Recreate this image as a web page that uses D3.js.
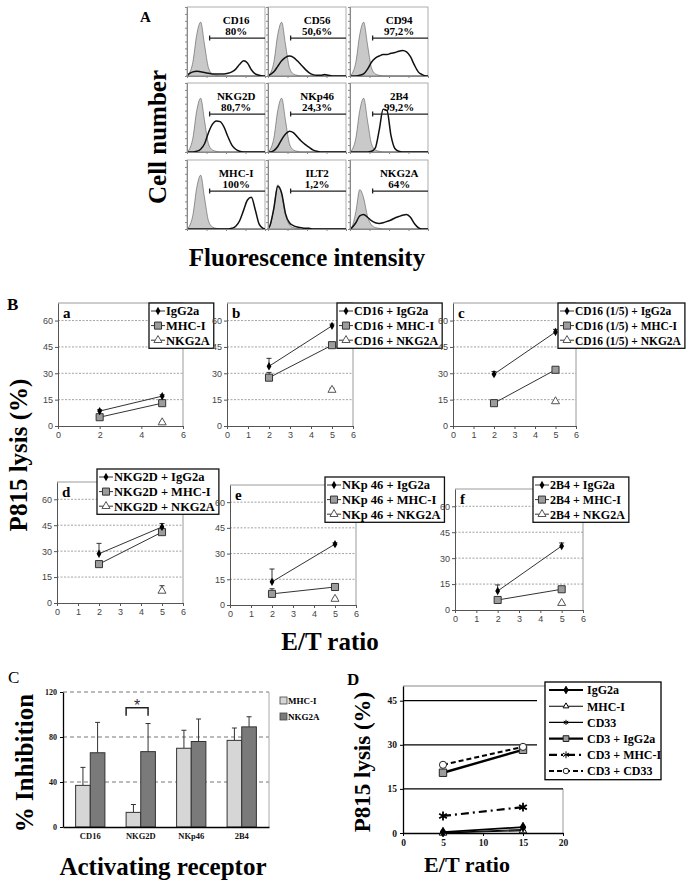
<!DOCTYPE html>
<html><head><meta charset="utf-8">
<script src="https://cdn.jsdelivr.net/npm/d3@7"></script>
<style>body{margin:0;background:#fff}svg{display:block}</style>
</head><body>
<svg id="fig" width="689" height="887"></svg>
<script>
// ================= DATA =================
// Panel A: flow cytometry histograms (20 log-spaced bins, % of cell height)
const histMarkers = ["CD16","CD56","CD94","NKG2D","NKp46","2B4","MHC-I","ILT2","NKG2A"];
const histPercents = ["80%","50,6%","97,2%","80,7%","24,3%","99,2%","100%","1,2%","64%"];
const isotypeTall  = [3,20,60,78,45,12,3,1,0,0,0,0,0,0,0,0,0,0,0,0];
const isotypeMid   = [4,30,64,50,20,6,2,1,0,0,0,0,0,0,0,0,0,0,0,0];
const isotypeLow   = [3,25,57,45,18,6,2,1,0,0,0,0,0,0,0,0,0,0,0,0];
const cd16Counts  = [3,6,7,6,5,4,3,3,3,3,4,6,10,17,22,19,9,3,1,0];
const cd56Counts  = [2,6,14,22,27,29,27,22,16,10,5,2,1,1,2,1,0,0,0,0];
const cd94Counts  = [0,0,1,3,10,20,26,29,31,31,33,34,36,37,35,28,16,6,2,0];
const nkg2dCounts = [0,0,1,4,12,28,40,45,44,36,22,10,4,1,0,0,0,0,0,0];
const nkp46Counts = [0,2,8,18,26,30,28,22,16,11,7,3,1,0,0,0,0,0,0,0];
const b2b4Counts  = [0,0,0,0,0,1,6,32,62,60,24,5,1,0,0,0,0,0,0,0];
const mhcCounts   = [0,0,0,0,0,0,0,0,0,0,0,1,4,12,27,42,46,28,7,1];
const ilt2Counts  = [5,30,62,52,22,9,5,3,2,1,1,0,0,0,0,0,0,0,0,0];
const nkg2aCounts = [2,9,19,21,17,12,9,8,9,11,13,16,18,20,21,17,8,2,0,0];
const histOutlines = [cd16Counts,cd56Counts,cd94Counts,nkg2dCounts,nkp46Counts,b2b4Counts,mhcCounts,ilt2Counts,nkg2aCounts];
const histIsotypes = [isotypeTall,isotypeTall,isotypeTall,isotypeTall,isotypeTall,isotypeTall,isotypeTall,isotypeMid,isotypeLow];

// Panel B: P815 lysis (%) at E/T 2 and 5
const etRatios = [2, 5];
const etTicks = [0,1,2,3,4,5,6];
const etTicksA = [0,2,4,6];
const lysisTicks = [0,15,30,45,60];
const subplotLetters = ["a","b","c","d","e","f"];
const subplotPrefixes = ["", "CD16 + ", "CD16 (1/5) + ", "NKG2D + ", "NKp 46 + ", "2B4 + "];
const antibodyNames = ["IgG2a","MHC-I","NKG2A"];
const igg2aLysis = [[8.5,17],[34,57],[29.5,53.5],[28.5,44],[13.5,35.5],[11,37]];
const igg2aErr   = [[0.8,0.8],[4.5,1],[1.5,1.5],[6,2],[7.5,0.8],[3.5,1.8]];
const mhcLysis   = [[5,13],[27.5,46],[13,32],[22.5,41],[6.5,10.5],[5.8,12]];
const mhcErr     = [[0.5,1],[3,0.5],[0.5,1],[1,1],[3,0.5],[0.5,0.5]];
const nkg2aLysis = [2, 20.5, 14, 7, 3.5, 4];   // at E/T 5 only
const nkg2aErr   = [0.5, 1, 0.5, 3, 0.5, 0.5];

// Panel C: % inhibition
const cCats = ["CD16","NKG2D","NKp46","2B4"];
const cMhcInhib = [37, 13, 70, 77];
const cMhcErr = [16, 7, 16, 11];
const cNkg2aInhib = [66, 67, 76, 89];
const cNkg2aErr = [27, 25, 20, 9];
const cTicks = [0, 40, 80, 120];
const cLegend = ["MHC-I","NKG2A"];

// Panel D: CD3 redirected lysis
const dEt = [5, 15];
const dTicksX = [0,5,10,15,20];
const dTicksY = [0,15,30,45];
const dSeries = ["IgG2a","MHC-I","CD33","CD3 + IgG2a","CD3 + MHC-I","CD3 + CD33"];
const dIgG2a = [0.3, 2];
const dMhcI = [0, 0.8];
const dCd33 = [0.1, 1.2];
const dCd3IgG2a = [20.5, 28.3];
const dCd3MhcI = [5.8, 8.8];
const dCd3Cd33 = [23.2, 29.3];
const dValues = [dIgG2a, dMhcI, dCd33, dCd3IgG2a, dCd3MhcI, dCd3Cd33];

// ================= DRAW =================
const svg = d3.select("#fig");
const SERIF = "'Liberation Serif','Times New Roman',serif";
const SANS = "'Liberation Sans',Arial,sans-serif";

function label(x, y, s, size, opt = {}) {
  const t = svg.append("text").attr("x", x).attr("y", y).text(s)
    .attr("font-family", opt.family || SERIF).attr("font-size", size)
    .attr("font-weight", opt.weight || "bold").attr("fill", opt.fill || "#000")
    .attr("text-anchor", opt.anchor || "start");
  if (opt.rotate) t.attr("x", 0).attr("y", 0).attr("transform", `translate(${x},${y}) rotate(-90)`);
  return t;
}

// ---------- Panel A ----------
label(140, 22, "A", 15);
label(166, 137, "Cell number", 25, {anchor: "middle", rotate: true});
label(307, 266, "Fluorescence intensity", 25, {anchor: "middle"});

const cellCols = [187, 268, 350], cellRows = [7, 83, 160], cellW = 78, cellH = 69;
histMarkers.forEach((name, i) => {
  const cx = cellCols[i % 3], cy = cellRows[Math.floor(i / 3)];
  const g = svg.append("g").attr("transform", `translate(${cx},${cy})`);
  const hx = d3.scaleLinear().domain([0, 20]).range([0, cellW]);
  const hy = d3.scaleLinear().domain([0, 100]).range([cellH, 0]);
  const toPts = arr => [[0, 0], ...arr.map((v, k) => [k + 0.5, v]), [20, 0]];
  const area = d3.area().x(d => hx(d[0])).y0(hy(0)).y1(d => hy(d[1])).curve(d3.curveMonotoneX);
  const line = d3.line().x(d => hx(d[0])).y(d => hy(d[1])).curve(d3.curveMonotoneX);
  g.append("rect").attr("width", cellW).attr("height", cellH).attr("fill", "#fff").attr("stroke", "#9a9a9a").attr("stroke-width", 0.8);
  g.append("path").attr("d", area(toPts(histIsotypes[i]))).attr("fill", "#c9c9c9").attr("stroke", "#555").attr("stroke-width", 0.6);
  g.append("path").attr("d", line(toPts(histOutlines[i]))).attr("fill", "none").attr("stroke", "#111").attr("stroke-width", 1.5);
  // tiny axes (tick marks only)
  g.append("g").call(d3.axisLeft(hy).ticks(8).tickSize(2).tickFormat(""))
    .call(s => { s.select(".domain").attr("stroke", "#888"); s.selectAll("line").attr("stroke", "#888"); });
  const lx = d3.scaleLog().domain([1, 10000]).range([0, cellW]);
  g.append("g").attr("transform", `translate(0,${cellH})`)
    .call(d3.axisBottom(lx).tickValues([1, 10, 100, 1000, 10000]).tickSize(2).tickFormat(""))
    .call(s => { s.select(".domain").attr("stroke", "#888"); s.selectAll("line").attr("stroke", "#888"); });
  // labels + marker
  const tx = cellW * 0.63;
  g.append("text").attr("x", tx).attr("y", cellH * 0.24).attr("text-anchor", "middle").text(name)
    .attr("font-family", SERIF).attr("font-weight", "bold").attr("font-size", 11);
  g.append("text").attr("x", tx).attr("y", cellH * 0.40).attr("text-anchor", "middle").text(histPercents[i])
    .attr("font-family", SERIF).attr("font-weight", "bold").attr("font-size", 11);
  const my = cellH * 0.45, mx = cellW * 0.29;
  g.append("path").attr("d", `M${mx},${my - 2.5}V${my + 2.5}M${mx},${my}H${cellW}`).attr("stroke", "#222").attr("stroke-width", 1.3).attr("fill", "none");
});

// ---------- Panel B ----------
label(7, 310, "B", 17);
label(27, 455, "P815 lysis (%)", 25, {anchor: "middle", rotate: true});
label(330, 650, "E/T ratio", 25, {anchor: "middle"});

const bLayout = [
  {x0: 58,  x1: 183, y0: 426, yT: 303, lx: 149, ly: 303, fs: 12.5, xt: etTicksA},
  {x0: 227, x1: 353, y0: 426, yT: 303, lx: 337, ly: 303, fs: 12, xt: etTicks},
  {x0: 453, x1: 576, y0: 426, yT: 303, lx: 558, ly: 303, fs: 11.5, xt: etTicks},
  {x0: 57,  x1: 183, y0: 603, yT: 482, lx: 97,  ly: 469, fs: 12.5, xt: etTicks},
  {x0: 230, x1: 356, y0: 605, yT: 485, lx: 325, ly: 477, fs: 12.5, xt: etTicks},
  {x0: 455, x1: 583, y0: 610, yT: 489, lx: 533, ly: 477, fs: 12, xt: etTicks}
];
const symDiamond = d3.symbol().type(d3.symbolDiamond).size(20);
const symSquare = d3.symbol().type(d3.symbolSquare).size(50);
const symTri = d3.symbol().type(d3.symbolTriangle).size(28);
function drawMarker(g, kind, x, y) {
  if (kind === 0) g.append("path").attr("d", symDiamond()).attr("transform", `translate(${x},${y})`).attr("fill", "#000");
  else if (kind === 1) g.append("path").attr("d", symSquare()).attr("transform", `translate(${x},${y})`).attr("fill", "#9c9c9c").attr("stroke", "#333").attr("stroke-width", 1);
  else g.append("path").attr("d", symTri()).attr("transform", `translate(${x},${y})`).attr("fill", "#fff").attr("stroke", "#555").attr("stroke-width", 1);
}
function errBar(g, x, yv, ytop) {
  g.append("path").attr("d", `M${x},${yv}V${ytop}M${x - 2.5},${ytop}H${x + 2.5}`).attr("stroke", "#333").attr("stroke-width", 1).attr("fill", "none");
}

bLayout.forEach((L, i) => {
  const x = d3.scaleLinear().domain([0, 6]).range([L.x0, L.x1]);
  const y = d3.scaleLinear().domain([0, 70]).range([L.y0, L.yT]);
  const g = svg.append("g");
  g.selectAll("line.grid").data(lysisTicks.filter(t => t > 0)).join("line")
    .attr("x1", L.x0).attr("x2", L.x1).attr("y1", d => y(d)).attr("y2", d => y(d))
    .attr("stroke", "#8a8a8a").attr("stroke-width", 0.8).attr("stroke-dasharray", "2,1.5");
  g.append("path").attr("d", `M${L.x0},${L.yT}H${L.x1}V${L.y0}`).attr("fill", "none").attr("stroke", "#9a9a9a").attr("stroke-width", 1);
  const styleAxis = s => { s.select(".domain").attr("stroke", "#555"); s.selectAll("line").attr("stroke", "#555");
    s.selectAll("text").attr("font-family", SANS).attr("font-size", 9).attr("fill", "#444"); };
  g.append("g").attr("transform", `translate(0,${L.y0})`)
    .call(d3.axisBottom(x).tickValues(L.xt).tickSize(3).tickSizeOuter(0).tickFormat(d3.format("d"))).call(styleAxis);
  g.append("g").attr("transform", `translate(${L.x0},0)`)
    .call(d3.axisLeft(y).tickValues(lysisTicks).tickSize(3).tickSizeOuter(0).tickPadding(2)).call(styleAxis);
  // lines
  const ln = d3.line().x((d, k) => x(etRatios[k])).y(d => y(d));
  g.append("path").attr("d", ln(igg2aLysis[i])).attr("stroke", "#333").attr("stroke-width", 1).attr("fill", "none");
  g.append("path").attr("d", ln(mhcLysis[i])).attr("stroke", "#333").attr("stroke-width", 1).attr("fill", "none");
  etRatios.forEach((e, k) => {
    errBar(g, x(e), y(igg2aLysis[i][k]), y(igg2aLysis[i][k] + igg2aErr[i][k]));
    errBar(g, x(e), y(mhcLysis[i][k]), y(mhcLysis[i][k] + mhcErr[i][k]));
  });
  errBar(g, x(etRatios[1]), y(nkg2aLysis[i]), y(nkg2aLysis[i] + nkg2aErr[i]));
  etRatios.forEach((e, k) => { drawMarker(g, 1, x(e), y(mhcLysis[i][k])); drawMarker(g, 0, x(e), y(igg2aLysis[i][k])); });
  drawMarker(g, 2, x(etRatios[1]), y(nkg2aLysis[i]));
  // letter
  g.append("text").attr("x", L.x0 + 5).attr("y", L.yT + 15).text(subplotLetters[i])
    .attr("font-family", SERIF).attr("font-weight", "bold").attr("font-size", 15);
  // legend
  const lg = svg.append("g");
  const box = lg.append("rect").attr("x", L.lx).attr("y", L.ly).attr("fill", "#fff").attr("stroke", "#111").attr("stroke-width", 1.3);
  const rowH = 14.6;
  let maxW = 0;
  antibodyNames.forEach((n, k) => {
    const ry = L.ly + 8 + k * rowH;
    lg.append("line").attr("x1", L.lx + 2).attr("x2", L.lx + 16).attr("y1", ry).attr("y2", ry).attr("stroke", "#333").attr("stroke-width", 1);
    drawMarker(lg, k, L.lx + 9, ry);
    const t = lg.append("text").attr("x", L.lx + 17).attr("y", ry + 4.3).text(subplotPrefixes[i] + n)
      .attr("font-family", SERIF).attr("font-weight", "bold").attr("font-size", L.fs);
    maxW = Math.max(maxW, t.node().getComputedTextLength());
  });
  box.attr("width", maxW + 21).attr("height", rowH * 3 + 1.5);
});

// ---------- Panel C ----------
label(8, 683, "C", 17, {weight: "normal"});
label(33, 763, "% Inhibition", 25, {anchor: "middle", rotate: true});
label(163, 875, "Activating receptor", 25, {anchor: "middle"});
{
  const x = d3.scaleBand().domain(cCats).range([63, 269]).paddingInner(0.42).paddingOuter(0.25);
  const xs = d3.scaleBand().domain(cLegend).range([0, x.bandwidth()]);
  const y = d3.scaleLinear().domain([0, 120]).range([827, 692]);
  const g = svg.append("g");
  g.selectAll("line.grid").data(cTicks.filter(t => t > 0)).join("line")
    .attr("x1", 63).attr("x2", 269).attr("y1", d => y(d)).attr("y2", d => y(d))
    .attr("stroke", "#777").attr("stroke-width", 1).attr("stroke-dasharray", "4,3");
  g.append("line").attr("x1", 269).attr("x2", 269).attr("y1", y(120)).attr("y2", y(0)).attr("stroke", "#aaa");
  const series = [[cMhcInhib, cMhcErr, "#d6d6d6"], [cNkg2aInhib, cNkg2aErr, "#7a7a7a"]];
  series.forEach(([vals, errs, col], s) => {
    cCats.forEach((c, k) => {
      const bx = x(c) + xs(cLegend[s]), bw = xs.bandwidth();
      errBar(g, bx + bw / 2, y(vals[k]), y(vals[k] + errs[k]));
      g.append("rect").attr("x", bx).attr("y", y(vals[k])).attr("width", bw).attr("height", y(0) - y(vals[k]))
        .attr("fill", col).attr("stroke", "#333").attr("stroke-width", 1);
    });
  });
  g.append("g").attr("transform", "translate(0,827)")
    .call(d3.axisBottom(x).tickSize(0).tickPadding(6))
    .call(s => { s.select(".domain").attr("stroke", "#000").attr("stroke-width", 1.3);
      s.selectAll("text").attr("font-family", SERIF).attr("font-weight", "bold").attr("font-size", 8.5).attr("fill", "#111"); });
  g.append("g").attr("transform", "translate(63,0)")
    .call(d3.axisLeft(y).tickValues(cTicks).tickSize(3).tickSizeOuter(0).tickPadding(3))
    .call(s => { s.select(".domain").attr("stroke", "#000").attr("stroke-width", 1.3);
      s.selectAll("text").attr("font-family", SERIF).attr("font-weight", "bold").attr("font-size", 8).attr("fill", "#111"); });
  // significance bracket
  const bxa = x("NKG2D") + xs("MHC-I"), bxb = x("NKG2D") + xs("NKG2A") + xs.bandwidth() / 2;
  g.append("path").attr("d", `M${bxa},${y(99)}V${y(106)}H${bxb}V${y(99)}`).attr("fill", "none").attr("stroke", "#222").attr("stroke-width", 1.5);
  g.append("text").attr("x", (bxa + bxb) / 2).attr("y", y(106) + 3).attr("text-anchor", "middle").text("*")
    .attr("font-family", SANS).attr("font-size", 16).attr("fill", "#333");
  // legend
  cLegend.forEach((n, k) => {
    const ly = 704 + k * 16;
    g.append("rect").attr("x", 280).attr("y", ly - 7).attr("width", 7).attr("height", 7)
      .attr("fill", series[k][2]).attr("stroke", "#444").attr("stroke-width", 0.8);
    g.append("text").attr("x", 288).attr("y", ly).text(n).attr("font-family", SERIF).attr("font-weight", "bold").attr("font-size", 9);
  });
}

// ---------- Panel D ----------
label(347, 685, "D", 17);
label(370, 762, "P815 lysis (%)", 23, {anchor: "middle", rotate: true});
label(467, 872, "E/T ratio", 22, {anchor: "middle"});
{
  const x = d3.scaleLinear().domain([0, 20]).range([403, 563]);
  const y = d3.scaleLinear().domain([0, 50]).range([833, 686]);
  const g = svg.append("g");
  g.append("path").attr("d", `M${x(0)},${y(50)}H545`).attr("stroke", "#888").attr("fill", "none");
  g.append("path").attr("d", `M${x(20)},${y(15)}V${y(0)}`).attr("stroke", "#999").attr("fill", "none");
  dTicksY.filter(t => t > 0).forEach(t => {
    g.append("line").attr("x1", x(0)).attr("x2", t === 15 ? x(20) : 537).attr("y1", y(t)).attr("y2", y(t))
      .attr("stroke", "#000").attr("stroke-width", 1.3);
  });
  const styleAxis = s => { s.select(".domain").attr("stroke", "#000").attr("stroke-width", 1.3); s.selectAll("line").attr("stroke", "#000");
    s.selectAll("text").attr("font-family", SERIF).attr("font-weight", "bold").attr("font-size", 9.5).attr("fill", "#111"); };
  g.append("g").attr("transform", `translate(0,${y(0)})`)
    .call(d3.axisBottom(x).tickValues(dTicksX).tickSize(3).tickSizeOuter(0)).call(styleAxis);
  g.append("g").attr("transform", `translate(${x(0)},0)`)
    .call(d3.axisLeft(y).tickValues(dTicksY).tickSize(3).tickSizeOuter(0)).call(styleAxis);

  const dStyles = [
    {w: 1.8, dash: null, sym: d3.symbolDiamond, size: 26, fill: "#000", stroke: "#000"},
    {w: 1.1, dash: null, sym: d3.symbolTriangle, size: 24, fill: "#fff", stroke: "#000"},
    {w: 1.1, dash: null, sym: d3.symbolAsterisk, size: 30, fill: "none", stroke: "#000"},
    {w: 2.4, dash: null, sym: d3.symbolSquare, size: 55, fill: "#9c9c9c", stroke: "#222"},
    {w: 2.2, dash: "8,4,2,4", sym: d3.symbolAsterisk, size: 55, fill: "none", stroke: "#000"},
    {w: 2, dash: "5,3", sym: d3.symbolCircle, size: 40, fill: "#fff", stroke: "#222"}
  ];
  const ln = d3.line().x((d, k) => x(dEt[k])).y(d => y(d));
  dValues.forEach((vals, s) => {
    const st = dStyles[s];
    g.append("path").attr("d", ln(vals)).attr("fill", "none").attr("stroke", "#000").attr("stroke-width", st.w)
      .attr("stroke-dasharray", st.dash);
  });
  [3, 5, 4, 2, 1, 0].forEach(s => {
    const st = dStyles[s];
    dValues[s].forEach((v, k) => {
      g.append("path").attr("d", d3.symbol().type(st.sym).size(st.size)()).attr("transform", `translate(${x(dEt[k])},${y(v)})`)
        .attr("fill", st.fill).attr("stroke", st.stroke).attr("stroke-width", s === 4 ? 1.8 : 1);
    });
  });
  // legend
  const lx = 545, ly = 682, rowH = 16.2;
  g.append("rect").attr("x", lx).attr("y", ly).attr("width", 116).attr("height", rowH * 6 + 0.5)
    .attr("fill", "#fff").attr("stroke", "#000").attr("stroke-width", 1.3);
  dSeries.forEach((n, s) => {
    const st = dStyles[s], ry = ly + 8 + s * rowH;
    g.append("line").attr("x1", lx + 4).attr("x2", lx + 38).attr("y1", ry).attr("y2", ry)
      .attr("stroke", "#000").attr("stroke-width", st.w).attr("stroke-dasharray", st.dash);
    g.append("path").attr("d", d3.symbol().type(st.sym).size(st.size * 0.6)()).attr("transform", `translate(${lx + 21},${ry})`)
      .attr("fill", st.fill).attr("stroke", st.stroke).attr("stroke-width", 1);
    g.append("text").attr("x", lx + 42).attr("y", ry + 4.3).text(n)
      .attr("font-family", SERIF).attr("font-weight", "bold").attr("font-size", 12);
  });
}
</script>
</body></html>
